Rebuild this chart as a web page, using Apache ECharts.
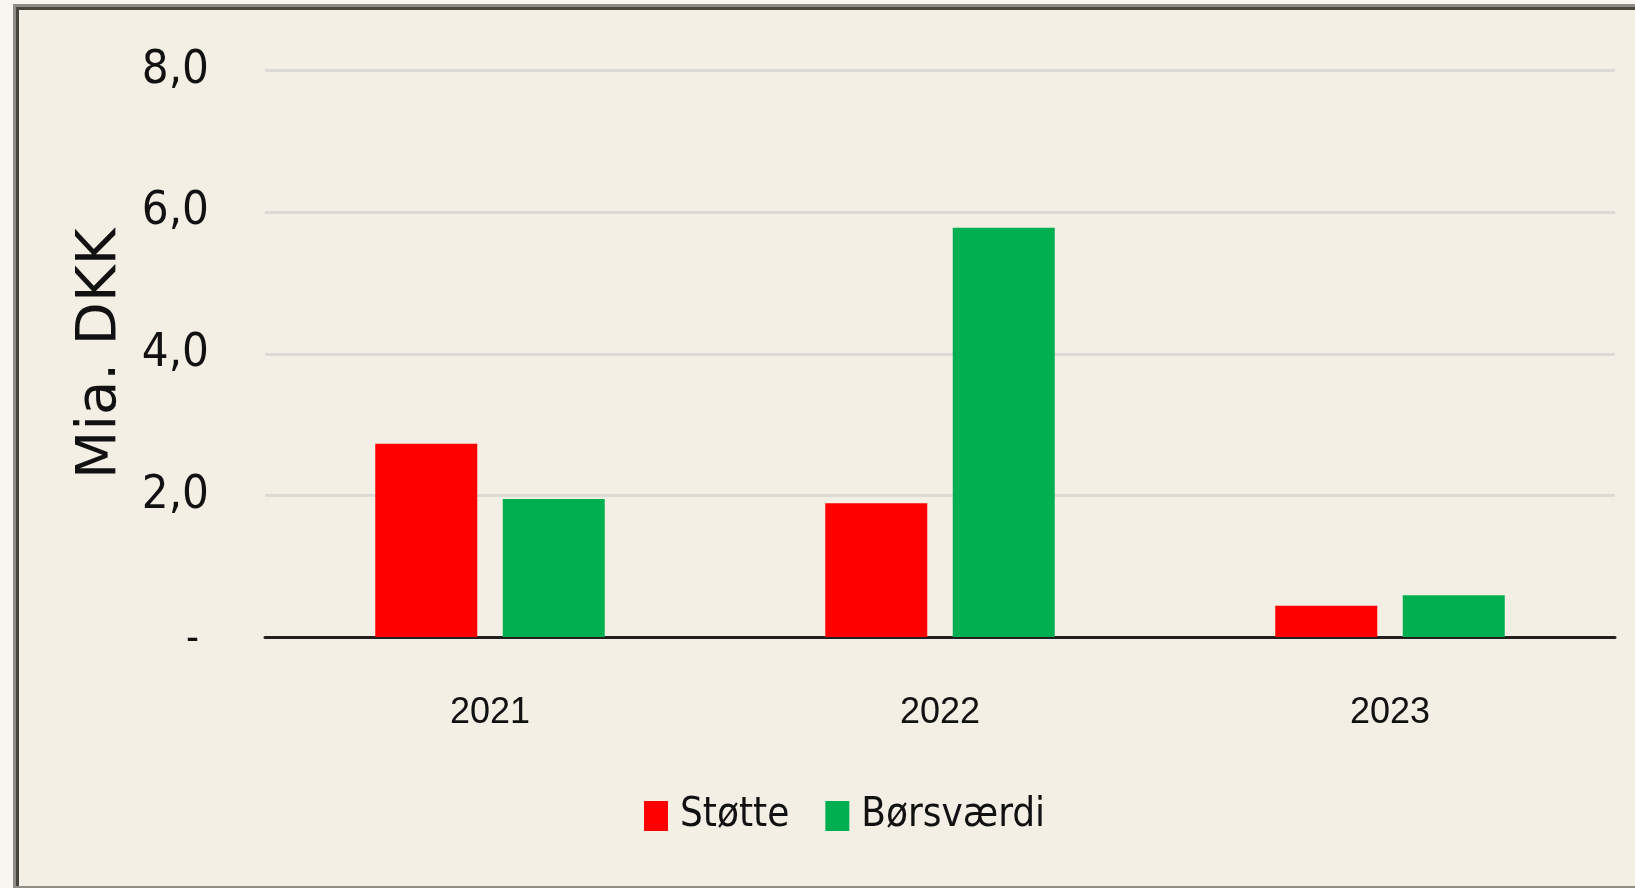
<!DOCTYPE html>
<html>
<head>
<meta charset="utf-8">
<script src="https://cdn.jsdelivr.net/npm/echarts@6/dist/echarts.min.js"></script>
<style>
  html, body { margin: 0; padding: 0; background: #f8f6f0; }
  #chart { width: 1635px; height: 888px; }
</style>
</head>
<body>
<div id="chart"></div>
<script>
// Data (Mia. DKK)
const categories = ['2021', '2022', '2023'];
const seriesNames = ['Støtte', 'Børsværdi'];
const stotte = [2.73, 1.89, 0.44];
const borsvaerdi = [1.95, 5.78, 0.59];
const yTickValues = [0, 2, 4, 6, 8];
const yTickLabels = ['-', '2,0', '4,0', '6,0', '8,0'];

const chart = echarts.init(document.getElementById('chart'), null, { renderer: 'canvas' });

const condensed = '"DejaVu Sans Condensed", "Liberation Sans Narrow", "Liberation Sans", sans-serif';

const option = {
  backgroundColor: 'transparent',
  animation: false,
  graphic: [
    { type: 'rect', z: -10, shape: { x: 13, y: 4, width: 1700, height: 884 }, style: { fill: '#f3efe4' } },
    { type: 'rect', z: -9, shape: { x: 13, y: 4, width: 1700, height: 3 }, style: { fill: '#8e8c86' } },
    { type: 'rect', z: -9, shape: { x: 13, y: 7, width: 1700, height: 3 }, style: { fill: '#46463f' } },
    { type: 'rect', z: -9, shape: { x: 13, y: 4, width: 3, height: 884 }, style: { fill: '#8e8c86' } },
    { type: 'rect', z: -9, shape: { x: 16, y: 7, width: 3, height: 881 }, style: { fill: '#46463f' } },
    { type: 'rect', z: -9, shape: { x: 16, y: 886, width: 1700, height: 2 }, style: { fill: '#908f88' } }
  ],
  grid: { left: 265, right: 20, top: 70.5, bottom: 251, containLabel: false },
  legend: {
    data: seriesNames,
    left: 644,
    top: 796,
    padding: 0,
    itemWidth: 24,
    itemHeight: 30,
    itemGap: 36,
    icon: 'rect',
    textStyle: {
      fontFamily: condensed,
      fontSize: 40,
      color: '#111',
      padding: [0, 0, 0, 7]
    }
  },
  xAxis: {
    type: 'category',
    data: categories,
    axisTick: { show: false },
    axisLine: { show: true, lineStyle: { color: '#231f20', width: 3 } },
    axisLabel: {
      margin: 58,
      fontFamily: '"Liberation Sans", Arial, sans-serif',
      fontSize: 36,
      color: '#111'
    }
  },
  yAxis: {
    type: 'value',
    min: 0,
    max: 8,
    interval: 2,
    name: 'Mia. DKK',
    nameLocation: 'middle',
    nameGap: 137,
    nameTextStyle: {
      fontFamily: '"DejaVu Sans", sans-serif',
      fontSize: 56,
      color: '#111'
    },
    axisLine: { show: false },
    axisTick: { show: false },
    splitLine: { show: true, lineStyle: { color: '#dcdad4', width: 3 } },
    axisLabel: {
      margin: 56,
      fontFamily: condensed,
      fontSize: 47,
      color: '#111',
      formatter: function (v) {
        const i = yTickValues.indexOf(v);
        const s = i >= 0 ? yTickLabels[i] : String(v);
        return v === 0 ? '{z|' + s + '}' : s;
      },
      rich: {
        z: {
          fontFamily: condensed,
          fontSize: 40,
          padding: [8, 10, 0, 0],
          color: '#111'
        }
      }
    }
  },
  series: [
    {
      name: seriesNames[0],
      type: 'bar',
      data: stotte,
      barWidth: 102,
      barGap: '25%',
      itemStyle: { color: '#ff0000' }
    },
    {
      name: seriesNames[1],
      type: 'bar',
      data: borsvaerdi,
      barWidth: 102,
      barGap: '25%',
      itemStyle: { color: '#00b050' }
    }
  ]
};

chart.setOption(option);
</script>
</body>
</html>
